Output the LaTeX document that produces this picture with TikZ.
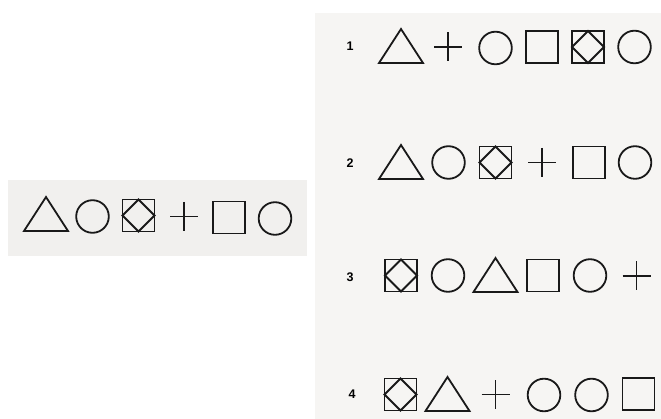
\documentclass[tikz,border=0pt]{standalone}
\usepackage{fontspec}
\setmainfont{Liberation Sans}
\definecolor{lpanel}{RGB}{241,240,238}
\definecolor{rpanel}{RGB}{246,245,243}
\begin{document}
\begin{tikzpicture}[x=1pt,y=-1pt,
  shp/.style={line width=1.8pt,line join=miter,draw=black!90},
  num/.style={font=\bfseries\fontsize{12.5}{12.5}\selectfont,inner sep=0pt},
  tri/.pic={\draw[shp] (-22,17) -- (0,-17) -- (22,17) -- cycle;},
  circ/.pic={\draw[shp] (0,0) circle[radius=16.3pt];},
  sq/.pic={\draw[shp] (-16,-16) rectangle (16,16);},
  boxd/.pic={\draw[shp] (-16,-16) rectangle (16,16);
             \draw[shp] (0,-16) -- (16,0) -- (0,16) -- (-16,0) -- cycle;},
  pls/.pic={\draw[shp] (-14,0) -- (14,0) (0,-14.5) -- (0,14.5);}
]
\useasboundingbox[fill=white] (0,0) rectangle (661,419);
% panels
\fill[lpanel] (8,180) rectangle (307,256);
\fill[rpanel] (315,13) rectangle (661,419);
% left sample row
\pic at (46,214) {tri};
\pic at (92.5,216.5) {circ};
\pic at (138.5,215.5) {boxd};
\pic at (184,216.5) {pls};
\pic at (229,217.5) {sq};
\pic at (275,218.5) {circ};
% row 1
\node[num] (n1) at (350,46) {1};
\pic at (401,46) {tri};
\pic at (448,47) {pls};
\pic at (495.5,48) {circ};
\pic at (542,47) {sq};
\pic at (588,47) {boxd};
\pic at (634.5,47) {circ};
% row 2
\node[num] (n2) at (350,163) {2};
\pic at (401,162) {tri};
\pic at (448.5,162.5) {circ};
\pic at (495.5,162.5) {boxd};
\pic at (542,162.5) {pls};
\pic at (589,162.5) {sq};
\pic at (635,162.5) {circ};
% row 3
\node[num] (n3) at (350,277) {3};
\pic at (401,275.5) {boxd};
\pic at (448,275.5) {circ};
\pic at (495.5,275) {tri};
\pic at (543,275.5) {sq};
\pic at (590,275.5) {circ};
\pic at (636.5,276) {pls};
% row 4
\node[num] (n4) at (352,394) {4};
\pic at (400.5,394.5) {boxd};
\pic at (447.5,394) {tri};
\pic at (495.5,394.5) {pls};
\pic at (544,395) {circ};
\pic at (591.5,395) {circ};
\pic at (638.5,394) {sq};
\end{tikzpicture}
\end{document}
